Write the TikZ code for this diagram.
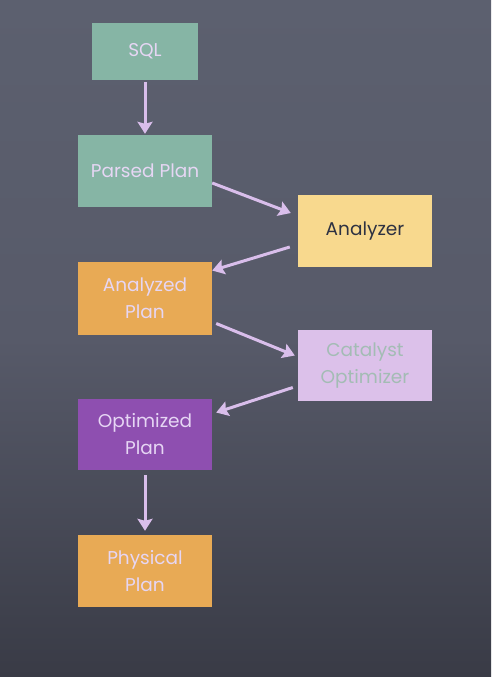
\documentclass[tikz,border=0pt]{standalone}
\usepackage{fontspec}
\setmainfont{Poppins}
\usetikzlibrary{arrows.meta}
\definecolor{bgtop}{HTML}{5C606F}
\definecolor{bgmid}{HTML}{575A69}
\definecolor{bgbot}{HTML}{393B46}
\definecolor{teal}{HTML}{86B5A5}
\definecolor{sand}{HTML}{F8D98E}
\definecolor{orng}{HTML}{E8AA55}
\definecolor{lav}{HTML}{DCC1EA}
\definecolor{purp}{HTML}{8E4FB0}
\definecolor{chalk}{HTML}{E6D6F4}
\definecolor{arrowc}{HTML}{D9BEEB}
\definecolor{darktxt}{HTML}{2E3242}
\definecolor{cattxt}{HTML}{A3BCB4}
\begin{document}
\begin{tikzpicture}[x=1pt,y=-1pt,
  box/.style={rectangle, minimum width=134pt, minimum height=72pt, inner sep=0pt,
     align=center, text=chalk, font=\fontsize{18.5}{27}\selectfont},
  arr/.style={draw=arrowc, line width=3pt, -{Stealth[length=12pt,width=15pt,inset=2pt]}}]
\shade[top color=bgtop, bottom color=bgbot, middle color=bgmid] (0,0) rectangle (491,677);
\useasboundingbox (0,0) rectangle (491,677);
\node[box, fill=teal, minimum width=106pt, minimum height=57pt] (sql) at (145,51.5) {SQL};
\node[box, fill=teal] (parsed) at (145,171) {Parsed Plan};
\node[box, fill=sand, text=darktxt] (analyzer) at (365,231) {Analyzer};
\node[box, fill=orng, minimum height=73pt] (analyzed) at (145,298.5) {Analyzed\\Plan};
\node[box, fill=lav, text=cattxt, minimum height=71pt] (catalyst) at (365,365.5) {Catalyst\\Optimizer};
\node[box, fill=purp, minimum height=71pt] (optimized) at (145,434.5) {Optimized\\Plan};
\node[box, fill=orng] (physical) at (145,571) {Physical\\Plan};
\draw[arr] ([shift={(0,2)}]sql.south) -- ([shift={(0,-1)}]parsed.north);
\draw[arr] ([shift={(0,12)}]parsed.east) -- ([shift={(-7,-18)}]analyzer.west);
\draw[arr] ([shift={(-8,16)}]analyzer.west) -- ([shift={(0,-28)}]analyzed.east);
\draw[arr] ([shift={(4,25)}]analyzed.east) -- ([shift={(-3,-10)}]catalyst.west);
\draw[arr] ([shift={(-5,22)}]catalyst.west) -- ([shift={(4,-22)}]optimized.east);
\draw[arr] ([shift={(0,5)}]optimized.south) -- ([shift={(0,-4)}]physical.north);
\end{tikzpicture}
\end{document}
